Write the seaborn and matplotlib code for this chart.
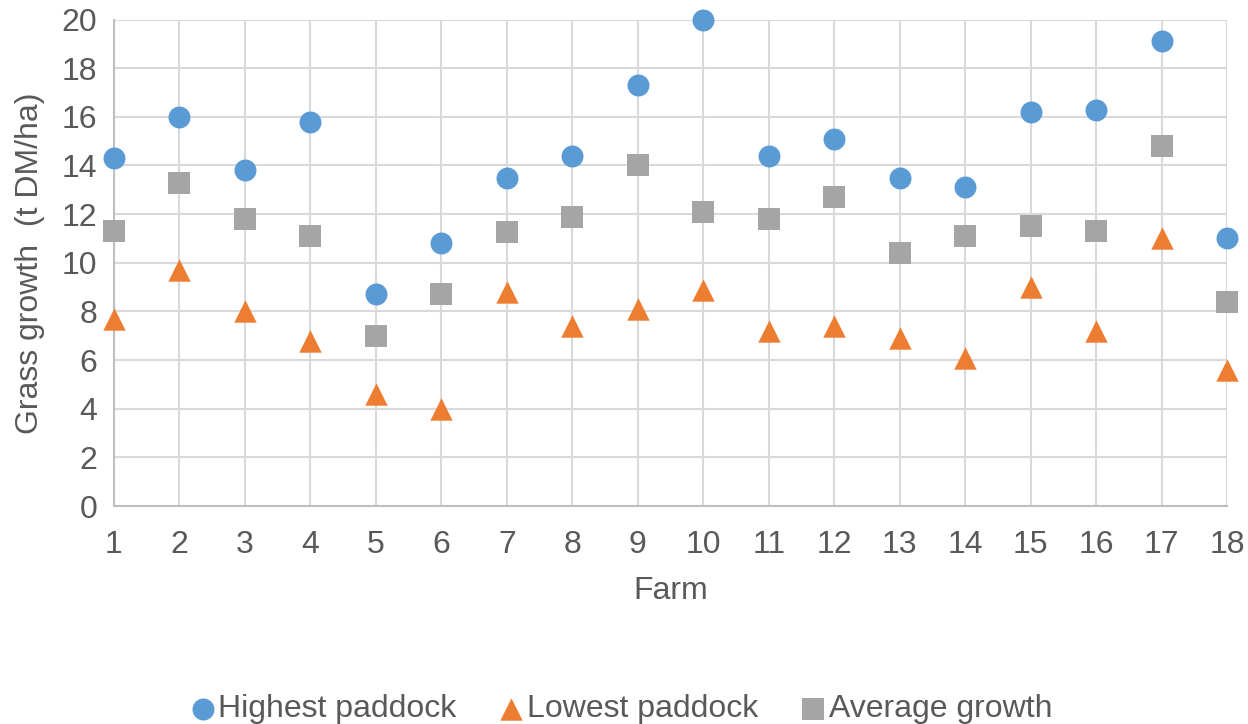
import matplotlib
matplotlib.use("Agg")
import matplotlib.pyplot as plt
import seaborn as sns
import pandas as pd

farms = list(range(1, 19))
highest = [14.3, 16.0, 13.8, 15.8, 8.7, 10.8, 13.5, 14.4, 17.3, 20.0,
           14.4, 15.1, 13.5, 13.1, 16.2, 16.3, 19.1, 11.0]
lowest = [7.7, 9.7, 8.0, 6.8, 4.6, 4.0, 8.8, 7.4, 8.1, 8.9,
          7.2, 7.4, 6.9, 6.1, 9.0, 7.2, 11.0, 5.6]
average = [11.3, 13.3, 11.8, 11.1, 7.0, 8.7, 11.25, 11.9, 14.0, 12.1,
           11.8, 12.7, 10.4, 11.1, 11.5, 11.3, 14.8, 8.4]
series_names = ["Highest paddock", "Lowest paddock", "Average growth"]

df = pd.DataFrame({"Farm": farms,
                   series_names[0]: highest,
                   series_names[1]: lowest,
                   series_names[2]: average})
long = df.melt(id_vars="Farm", var_name="Series", value_name="Growth")

sns.set_theme(style="white")
plt.rcParams["font.family"] = ["Liberation Sans", "DejaVu Sans"]
text_color = "#595959"
fs = 23

fig = plt.figure(figsize=(12.48, 7.24), dpi=100)
ax = fig.add_axes([0.0913, 0.3011, 0.8919, 0.6719])

palette = {series_names[0]: "#5B9BD5", series_names[1]: "#ED7D31", series_names[2]: "#A5A5A5"}
markers = {series_names[0]: "o", series_names[1]: "^", series_names[2]: "s"}
sizes = {series_names[0]: 250, series_names[1]: 260, series_names[2]: 230}

for name in series_names:
    sub = long[long["Series"] == name]
    sns.scatterplot(data=sub, x="Farm", y="Growth", ax=ax, color=palette[name],
                    marker=markers[name], s=sizes[name], linewidth=0,
                    label=name, zorder=3, clip_on=False)

ax.set_xlim(1, 18)
ax.set_ylim(0, 20)
ax.set_xticks(farms)
ax.set_yticks(range(0, 21, 2))
ax.grid(True, color="#D9D9D9", linewidth=1.5)
ax.set_axisbelow(True)
for side in ["top", "right"]:
    ax.spines[side].set_visible(False)
for side in ["left", "bottom"]:
    ax.spines[side].set_color("#BFBFBF")
    ax.spines[side].set_linewidth(1.5)
    ax.spines[side].set_zorder(2)

ax.tick_params(axis="x", labelsize=fs, colors=text_color, length=0, pad=17)
ax.tick_params(axis="y", labelsize=fs, colors=text_color, length=0, pad=12)
ax.set_xlabel("Farm", fontsize=fs, color=text_color, labelpad=12)
ax.set_ylabel("Grass growth  (t DM/ha)", fontsize=fs, color=text_color, labelpad=12)

leg = ax.legend(loc="center", bbox_to_anchor=(0.454, -0.418), ncol=3, frameon=False,
                fontsize=fs, handletextpad=0.0, handlelength=1.0, columnspacing=1.2,
                markerscale=1.0, labelcolor=text_color, borderpad=0)

fig.savefig("out.png", dpi=100)
